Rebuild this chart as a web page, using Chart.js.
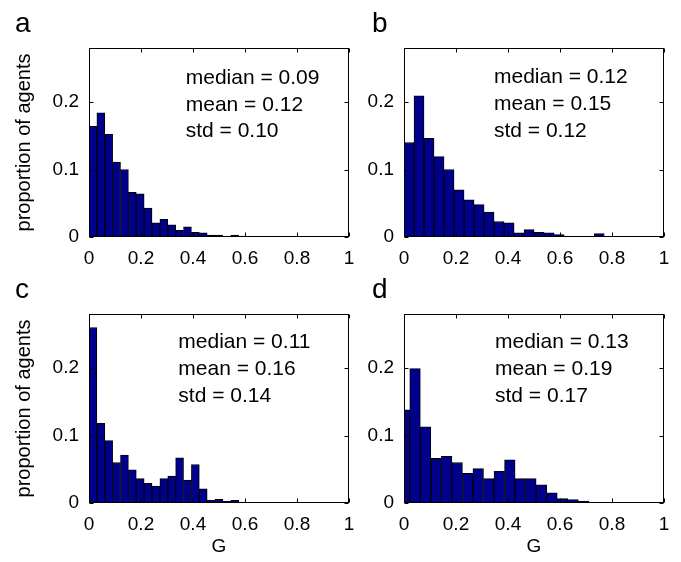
<!DOCTYPE html>
<html>
<head>
<meta charset="utf-8">
<script src="https://cdn.jsdelivr.net/npm/chart.js@4.4.1/dist/chart.umd.min.js"></script>
<style>
html, body { margin: 0; padding: 0; background: #fff; }
#wrap { position: relative; width: 681px; height: 562px; overflow: hidden; }
canvas { position: absolute; }
</style>
</head>
<body>
<div id="wrap">
  <canvas id="chartA" width="365" height="270" style="left:0px;top:0px"></canvas>
  <canvas id="chartB" width="316" height="270" style="left:365px;top:0px"></canvas>
  <canvas id="chartC" width="365" height="292" style="left:0px;top:270px"></canvas>
  <canvas id="chartD" width="316" height="292" style="left:365px;top:270px"></canvas>
</div>
<script>
// tick values shared by all four panels
const xTicks = [0, 0.2, 0.4, 0.6, 0.8, 1];
const yTicks = [0, 0.1, 0.2];

// bin centres (G)
const binsA = [0.01515, 0.04545, 0.07575, 0.10605, 0.13635, 0.16665, 0.19695, 0.22725, 0.25755, 0.28785,
               0.31815, 0.34845, 0.37875, 0.40905, 0.43935, 0.46965, 0.49995, 0.53025, 0.56055, 0.59085];
const binsB = [0.01925, 0.05775, 0.09625, 0.13475, 0.17325, 0.21175, 0.25025, 0.28875, 0.32725, 0.36575,
               0.40425, 0.44275, 0.48125, 0.51975, 0.55825, 0.59675, 0.63525, 0.67375, 0.71225, 0.75075];
const binsC = binsA;
const binsD = [0.002, 0.0425, 0.083, 0.1235, 0.164, 0.2045, 0.245, 0.2855, 0.326, 0.3665,
               0.407, 0.4475, 0.488, 0.5285, 0.569, 0.6095, 0.65, 0.6905, 0.731, 0.7715];

// proportion of agents per bin
const propA = [0.164, 0.184, 0.152, 0.111, 0.100, 0.066, 0.064, 0.043, 0.021, 0.026,
               0.018, 0.010, 0.015, 0.007, 0.006, 0.003, 0.003, 0.001, 0.003, 0.0015];
const propB = [0.140, 0.209, 0.146, 0.119, 0.100, 0.070, 0.055, 0.048, 0.037, 0.023,
               0.021, 0.006, 0.011, 0.007, 0.006, 0.0035, 0.001, 0.0004, 0.001, 0.005];
const propC = [0.260, 0.118, 0.0925, 0.060, 0.071, 0.049, 0.036, 0.029, 0.025, 0.036,
               0.040, 0.067, 0.034, 0.057, 0.021, 0.004, 0.0055, 0.0025, 0.004, 0.0015];
const propD = [0.138, 0.199, 0.113, 0.066, 0.069, 0.060, 0.044, 0.051, 0.036, 0.047,
               0.064, 0.036, 0.036, 0.027, 0.015, 0.0065, 0.005, 0.003, 0.001, 0.001];

// summary text
const statsA = ['median = 0.09', 'mean = 0.12', 'std = 0.10'];
const statsB = ['median = 0.12', 'mean = 0.15', 'std = 0.12'];
const statsC = ['median = 0.11', 'mean = 0.16', 'std = 0.14'];
const statsD = ['median = 0.13', 'mean = 0.19', 'std = 0.17'];

const yTitle = 'proportion of agents';
const xTitle = 'G';

const FONT = "Arial, 'Liberation Sans', Helvetica, sans-serif";

// frame with inward ticks, panel letter, stats text, y label
const panelDecor = {
    id: 'panelDecor',
    afterDraw: (chart, args, o) => {
        const ctx = chart.ctx;
        const a = chart.chartArea;
        const xs = chart.scales.x, ys = chart.scales.y;
        const L = Math.round(a.left) + 0.5, R = Math.round(a.right) - 0.5;
        const T = Math.round(a.top) + 0.5, B = Math.round(a.bottom) - 0.5;
        ctx.save();
        ctx.strokeStyle = '#000';
        ctx.lineWidth = 1;
        ctx.strokeRect(L, T, R - L, B - T);
        const tl = 4;
        ctx.beginPath();
        xTicks.forEach(v => {
            const px = Math.round(xs.getPixelForValue(v)) + 0.5;
            ctx.moveTo(px, B); ctx.lineTo(px, B - tl);
            ctx.moveTo(px, T); ctx.lineTo(px, T + tl);
        });
        yTicks.forEach(v => {
            const py = Math.round(ys.getPixelForValue(v)) + 0.5;
            ctx.moveTo(L, py); ctx.lineTo(L + tl, py);
            ctx.moveTo(R, py); ctx.lineTo(R - tl, py);
        });
        ctx.stroke();

        ctx.fillStyle = '#000';
        ctx.textAlign = 'left';
        ctx.textBaseline = 'alphabetic';
        ctx.font = '28px ' + FONT;
        ctx.fillText(o.letter, o.letterX, o.letterY);

        ctx.font = '21px ' + FONT;
        const sx = xs.getPixelForValue(o.textAt[0]);
        const sy = ys.getPixelForValue(o.textAt[1]);
        o.lines.forEach((s, i) => ctx.fillText(s, sx, sy + i * 26.7));

        if (o.yLabel) {
            ctx.font = '20px ' + FONT;
            ctx.translate(o.yLabelX, (a.top + a.bottom) / 2);
            ctx.rotate(-Math.PI / 2);
            ctx.textAlign = 'center';
            ctx.fillText(o.yLabel, 0, 0);
        }
        ctx.restore();
    }
};

function makePanel(id, bins, props, deco, opts) {
    const pts = bins.map((x, i) => ({ x: x, y: props[i] }));
    return new Chart(document.getElementById(id), {
        type: 'bar',
        data: {
            datasets: [{
                data: pts,
                backgroundColor: '#00008c',
                borderColor: '#000',
                borderWidth: 1,
                barPercentage: 1,
                categoryPercentage: 1
            }]
        },
        options: {
            animation: false,
            responsive: false,
            layout: { padding: { top: opts.padTop, right: opts.padRight, left: 0, bottom: 0 } },
            plugins: {
                legend: { display: false },
                tooltip: { enabled: false },
                panelDecor: deco
            },
            scales: {
                x: {
                    type: 'linear',
                    min: 0,
                    max: 1,
                    offset: false,
                    grid: { display: false, drawTicks: false },
                    border: { display: false },
                    afterBuildTicks: s => { s.ticks = xTicks.map(v => ({ value: v })); },
                    afterFit: s => { s.height = opts.xHeight; },
                    ticks: {
                        padding: 10,
                        color: '#000',
                        font: { family: FONT, size: 19 },
                        callback: v => String(v)
                    },
                    title: {
                        display: opts.showG,
                        text: xTitle,
                        color: '#000',
                        font: { family: FONT, size: 19 },
                        padding: { top: 5 }
                    }
                },
                y: {
                    type: 'linear',
                    min: 0,
                    max: 0.28,
                    grid: { display: false, drawTicks: false },
                    border: { display: false },
                    afterBuildTicks: s => { s.ticks = yTicks.map(v => ({ value: v })); },
                    afterFit: s => { s.width = opts.yWidth; },
                    ticks: {
                        padding: 10,
                        color: '#000',
                        font: { family: FONT, size: 19 },
                        callback: v => String(v)
                    }
                }
            }
        },
        plugins: [panelDecor]
    });
}

makePanel('chartA', binsA, propA,
    { letter: 'a', letterX: 15, letterY: 32, lines: statsA, textAt: [0.372, 0.2267],
      yLabel: yTitle, yLabelX: 30 },
    { padTop: 48, padRight: 16, xHeight: 33, yWidth: 89, showG: false });

makePanel('chartB', binsB, propB,
    { letter: 'b', letterX: 7, letterY: 32, lines: statsB, textAt: [0.346, 0.2277] },
    { padTop: 48, padRight: 17, xHeight: 33, yWidth: 39, showG: false });

makePanel('chartC', binsC, propC,
    { letter: 'c', letterX: 15, letterY: 28, lines: statsC, textAt: [0.3435, 0.229],
      yLabel: yTitle, yLabelX: 30 },
    { padTop: 44, padRight: 16, xHeight: 59, yWidth: 89, showG: true });

makePanel('chartD', binsD, propD,
    { letter: 'd', letterX: 7, letterY: 28, lines: statsD, textAt: [0.35, 0.229] },
    { padTop: 44, padRight: 17, xHeight: 59, yWidth: 39, showG: true });
</script>
</body>
</html>
